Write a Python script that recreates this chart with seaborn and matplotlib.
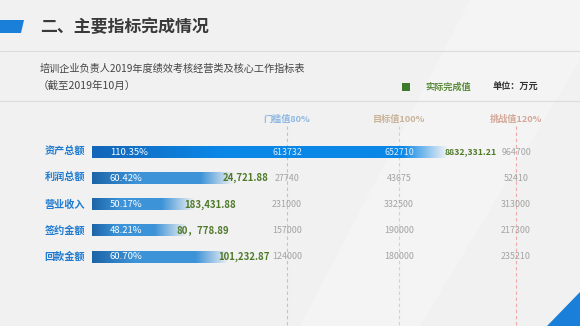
import numpy as np
import pandas as pd
import matplotlib
matplotlib.use("Agg")
import matplotlib.pyplot as plt
import seaborn as sns
from matplotlib.patches import Polygon
from matplotlib.colors import to_rgb

# --- Data ---
categories = ["资产总额", "利润总额", "营业收入", "签约金额", "回款金额"]
completion_pct = [110.35, 60.42, 50.17, 48.21, 60.70]
actual_labels = ["8832,331.21", "24,721.88", "183,431.88", "80，778.89", "101,232.87"]
threshold_vals = [613732, 27740, 231000, 157000, 124000]
target_vals = [652710, 43675, 332500, 190000, 180000]
challenge_vals = [964700, 52410, 313000, 217300, 235210]
column_titles = ["门槛值80%", "目标值100%", "挑战值120%"]

W, H = 580, 326
BG = "#f1f1f1"
BLUE = "#1a7fd8"
GREEN = "#4f7a2a"
FONT = ["Noto Sans CJK SC", "DejaVu Sans"]


def main():
    sns.set_theme(style="white")
    plt.rcParams["font.family"] = FONT

    fig = plt.figure(figsize=(W / 100, H / 100), dpi=100, facecolor=BG)

    # background / decoration layer in pixel units
    deco = fig.add_axes([0, 0, 1, 1], zorder=0)
    deco.set_xlim(0, W)
    deco.set_ylim(H, 0)
    deco.axis("off")
    deco.add_patch(Polygon([(470, 0), (580, 0), (580, 60), (420, 326), (300, 326)],
                           closed=True, color="white", alpha=0.22, lw=0))
    deco.add_patch(Polygon([(0, 20), (24, 20), (21, 33), (0, 33)], closed=True, color=BLUE, lw=0))
    deco.add_patch(Polygon([(547, 326), (580, 326), (580, 292)], closed=True, color=BLUE, lw=0))
    deco.plot([0, W], [51, 51], color="#dcdcdc", lw=0.8)
    deco.plot([0, W], [101, 101], color="#dcdcdc", lw=0.8)

    deco.text(40, 27, "二、主要指标完成情况", fontsize=12.2, fontweight="bold",
              color="#3a3a3a", va="center", ha="left")
    deco.text(40, 69, "培训企业负责人2019年度绩效考核经营类及核心工作指标表", fontsize=7.3,
              color="#444444", va="center", ha="left")
    deco.text(38, 86, "（截至2019年10月）", fontsize=7.6, color="#444444", va="center", ha="left")

    deco.add_patch(Polygon([(402, 83), (410, 83), (410, 91), (402, 91)], closed=True,
                           color="#3f7a2a", lw=0))
    deco.text(425, 87.5, "实际完成值", fontsize=6.6, fontweight="bold", color="#5a8a3a",
              va="center", ha="left")
    deco.text(493, 87.5, "单位：万元", fontsize=6.6, fontweight="bold", color="#333333",
              va="center", ha="left")

    # column layout (threshold / target / challenge)
    col_x = [287, 399, 516]
    col_line_colors = ["#a9c9ea", "#f2c9a2", "#f0a9a9"]
    col_title_colors = ["#8db8e2", "#c9b398", "#d3a898"]
    for cx, lc, tc, title in zip(col_x, col_line_colors, col_title_colors, column_titles):
        deco.plot([cx, cx], [126, H], color=lc, lw=0.8, ls=(0, (3, 2.5)))
        deco.text(cx, 119, title, fontsize=6.6, fontweight="bold", style="italic",
                  color=tc, ha="center", va="center")

    # --- Bars ---
    df = pd.DataFrame({"category": categories, "pct": completion_pct})
    ax = fig.add_axes([92 / W, (H - 270) / H, (556 - 92) / W, 131 / H], zorder=2)
    ax.patch.set_alpha(0)
    sns.barplot(data=df, y="category", x="pct", orient="h", ax=ax, width=0.44,
                color=BLUE, saturation=1)
    ax.set_xlim(0, 144)
    ax.set_ylim(4.5, -0.5)
    ax.set_xlabel("")
    ax.set_ylabel("")
    ax.set_xticks([])
    ax.set_yticks([])
    for s in ax.spines.values():
        s.set_visible(False)

    fig.canvas.draw()
    renderer = fig.canvas.get_renderer()
    inv = ax.transData.inverted()
    col_data_x = [inv.transform(deco.transData.transform((cx, 0)))[0] for cx in col_x]

    patches = list(ax.patches)
    for i, patch in enumerate(patches):
        pct = completion_pct[i]
        y0 = patch.get_y()
        h = patch.get_height()
        yc = y0 + h / 2
        # long bars run through the value columns; short ones fade before them
        crosses = pct > col_data_x[1]
        if crosses:
            t = ax.text(pct - 1, yc, actual_labels[i], ha="left", va="center",
                        fontsize=6.3, fontweight="bold", color=GREEN, zorder=5)
        else:
            t = ax.text(pct - 5.5, yc, actual_labels[i], ha="right", va="center",
                        fontsize=6.9, fontweight="bold", color=GREEN, zorder=5)
        bb = t.get_window_extent(renderer)
        text_left = inv.transform((bb.x0, 0))[0]
        fade_end = pct if crosses else text_left + 3
        fade_start = fade_end - (14 if crosses else 10)

        n = 400
        xs = np.linspace(0, pct, n)
        dark = np.array(to_rgb("#1c64a8" if not crosses else "#1466b8"))
        bright = np.array(to_rgb("#3d93d8" if not crosses else "#0a86e6"))
        frac = np.clip(xs / max(fade_start, 1e-6), 0, 1)[:, None]
        frac = np.minimum(frac * 2.5, 1)
        rgb = dark * (1 - frac) + bright * frac
        alpha = np.clip((fade_end - xs) / (fade_end - fade_start), 0, 1)
        rgba = np.concatenate([rgb, alpha[:, None]], axis=1)[None, :, :]
        ax.imshow(rgba, extent=(0, pct, y0 + h, y0), aspect="auto",
                  interpolation="bilinear", zorder=3)
        patch.set_visible(False)

        ax.text(5.5, yc, f"{pct:.2f}%", ha="left", va="center", fontsize=6.8,
                color="white", zorder=5)
        deco.text(85, 152 + i * 26.2, categories[i], ha="right", va="center",
                  fontsize=7.3, fontweight="bold", color="#1f7bd0")

        # column values
        for cx, vals in zip(col_data_x, [threshold_vals, target_vals, challenge_vals]):
            inside = crosses and pct > cx + 3
            ax.text(cx, yc, str(vals[i]), ha="center", va="center", fontsize=6.4,
                    color="#dceeff" if inside else "#a3a3a3", zorder=5)

    ax.set_xlim(0, 144)
    ax.set_ylim(4.5, -0.5)

    fig.savefig("out.png", dpi=100, facecolor=BG)


if __name__ == "__main__":
    main()
